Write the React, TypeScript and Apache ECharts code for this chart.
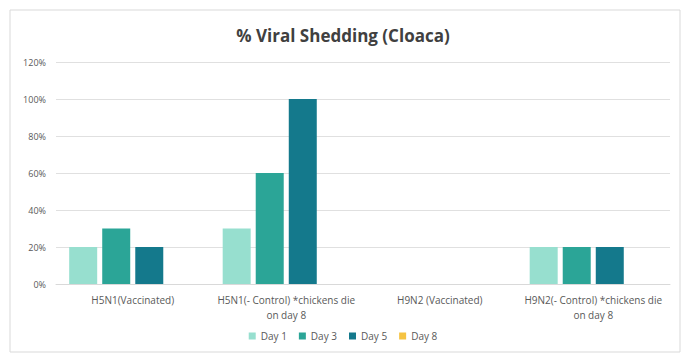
import React, { useEffect, useRef } from "react";
import * as echarts from "echarts";

const categories = [
  "H5N1(Vaccinated)",
  "H5N1(- Control) *chickens die\non day 8",
  "H9N2 (Vaccinated)",
  "H9N2(- Control) *chickens die\non day 8",
];
const seriesNames = ["Day 1", "Day 3", "Day 5", "Day 8"];
const day1 = [0.2, 0.3, 0, 0.2];
const day3 = [0.3, 0.6, 0, 0.2];
const day5 = [0.2, 1.0, 0, 0.2];
const day8 = [0, 0, 0, 0];
const yTicks = [0, 0.2, 0.4, 0.6, 0.8, 1.0, 1.2];
const colors = ["#97dfcf", "#2ba597", "#14798c", "#f5c342"];

export default function App() {
  const ref = useRef<HTMLDivElement>(null);
  useEffect(() => {
    const chart = echarts.init(ref.current!, null, { renderer: "svg" });
    const font = "'Open Sans', 'Liberation Sans', sans-serif";
    const data = [day1, day3, day5, day8];
    chart.setOption({
      animation: false,
      backgroundColor: "#ffffff",
      textStyle: { fontFamily: font },
      graphic: [
        {
          type: "rect",
          shape: { x: 10, y: 10, width: 670, height: 342 },
          style: { fill: "none", stroke: "#d9d9d9", lineWidth: 1 },
          silent: true,
        },
      ],
      title: {
        text: "% Viral Shedding (Cloaca)",
        left: "center",
        top: 22,
        textStyle: { fontSize: 17, fontWeight: "bold", color: "#404040", fontFamily: font },
      },
      legend: {
        bottom: 10,
        left: "center",
        itemWidth: 7,
        itemHeight: 7,
        itemGap: 12,
        icon: "rect",
        textStyle: { fontSize: 10, color: "#595959" },
        data: seriesNames,
      },
      grid: { left: 56, right: 16, top: 62, bottom: 72, containLabel: false },
      xAxis: {
        type: "category",
        data: categories,
        axisLine: { lineStyle: { color: "#d9d9d9" } },
        axisTick: { show: false },
        axisLabel: { fontSize: 10, color: "#595959", lineHeight: 15, margin: 8, interval: 0 },
      },
      yAxis: {
        type: "value",
        min: 0,
        max: 1.2,
        interval: 0.2,
        axisLine: { show: false },
        axisTick: { show: false },
        splitLine: { lineStyle: { color: "#e0e0e0" } },
        axisLabel: {
          fontSize: 9,
          color: "#595959",
          margin: 10,
          formatter: (v: number) => {
            const t = yTicks.find((x) => Math.abs(x - v) < 1e-6);
            return Math.round((t ?? v) * 100) + "%";
          },
        },
      },
      series: seriesNames.map((name, i) => ({
        name,
        type: "bar",
        data: data[i],
        barWidth: 28,
        barGap: "18%",
        itemStyle: { color: colors[i] },
      })),
    });
    return () => chart.dispose();
  }, []);
  return (
    <div
      ref={ref}
      style={{ position: "absolute", left: 0, top: 0, width: 686, height: 356 }}
    />
  );
}
